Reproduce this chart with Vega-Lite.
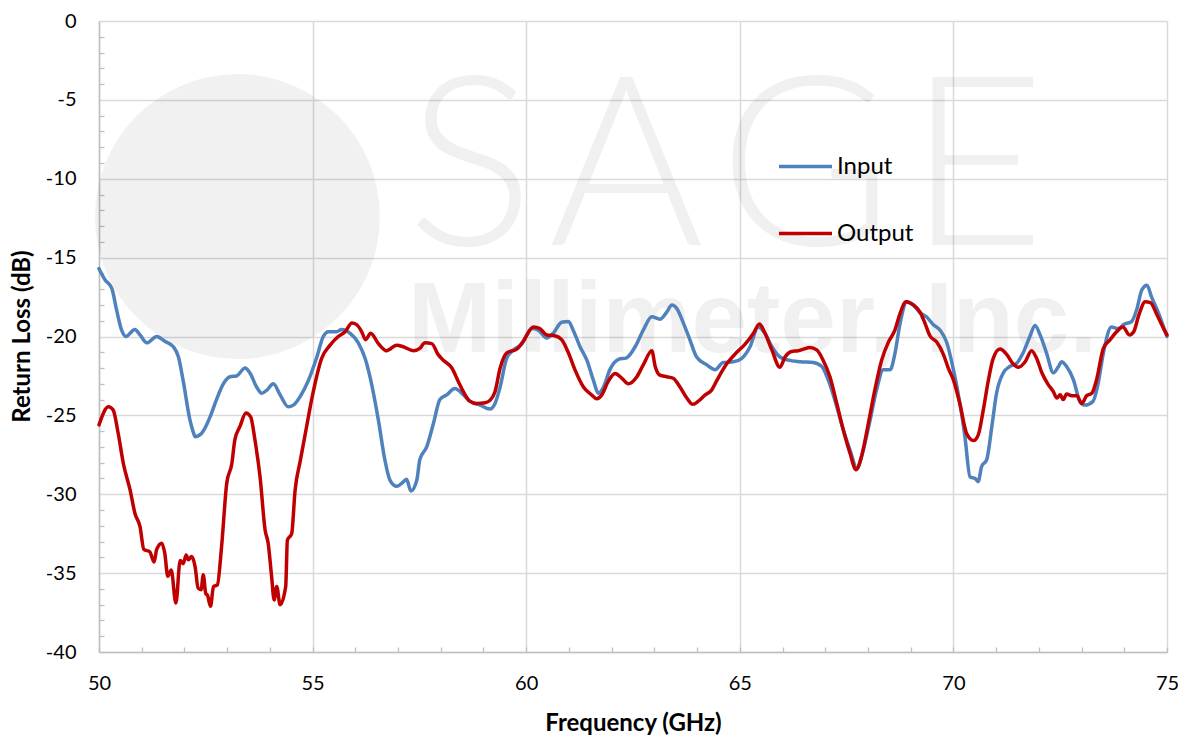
{
  "$schema": "https://vega.github.io/schema/vega-lite/v6.json",
  "width": 1068,
  "height": 631,
  "autosize": {"type": "none"},
  "padding": {"left": 99, "top": 21, "right": 20, "bottom": 86},
  "background": "white",
  "config": {
    "view": {"stroke": null},
    "font": "Lato",
    "axis": {
      "labelFont": "Lato",
      "labelFontSize": 20,
      "labelColor": "#000000",
      "titleFont": "Lato",
      "titleFontSize": 24,
      "titleFontWeight": "bold",
      "titleColor": "#000000",
      "domainColor": "#bfbfbf",
      "domainWidth": 1.5,
      "tickColor": "#bfbfbf",
      "tickWidth": 1.3,
      "gridColor": "#d9d9d9",
      "gridWidth": 1.5
    }
  },
  "resolve": {"axis": {"y": "independent"}},
  "datasets": {
    "wm": [{"t": "SAGE"}],
    "curves": [
      {"f": 50.00, "v": -15.7, "s": "Input"},
      {"f": 50.14, "v": -16.4, "s": "Input"},
      {"f": 50.30, "v": -16.95, "s": "Input"},
      {"f": 50.41, "v": -18.3, "s": "Input"},
      {"f": 50.53, "v": -19.6, "s": "Input"},
      {"f": 50.63, "v": -20.0, "s": "Input"},
      {"f": 50.84, "v": -19.55, "s": "Input"},
      {"f": 50.96, "v": -19.9, "s": "Input"},
      {"f": 51.12, "v": -20.4, "s": "Input"},
      {"f": 51.35, "v": -20.0, "s": "Input"},
      {"f": 51.54, "v": -20.3, "s": "Input"},
      {"f": 51.74, "v": -20.65, "s": "Input"},
      {"f": 51.86, "v": -21.3, "s": "Input"},
      {"f": 51.97, "v": -22.8, "s": "Input"},
      {"f": 52.13, "v": -25.3, "s": "Input"},
      {"f": 52.20, "v": -26.0, "s": "Input"},
      {"f": 52.25, "v": -26.35, "s": "Input"},
      {"f": 52.40, "v": -26.15, "s": "Input"},
      {"f": 52.52, "v": -25.6, "s": "Input"},
      {"f": 52.60, "v": -25.1, "s": "Input"},
      {"f": 52.75, "v": -24.0, "s": "Input"},
      {"f": 52.91, "v": -23.0, "s": "Input"},
      {"f": 53.07, "v": -22.55, "s": "Input"},
      {"f": 53.22, "v": -22.5, "s": "Input"},
      {"f": 53.42, "v": -22.0, "s": "Input"},
      {"f": 53.53, "v": -22.3, "s": "Input"},
      {"f": 53.69, "v": -23.2, "s": "Input"},
      {"f": 53.81, "v": -23.6, "s": "Input"},
      {"f": 53.93, "v": -23.4, "s": "Input"},
      {"f": 54.08, "v": -23.0, "s": "Input"},
      {"f": 54.24, "v": -23.7, "s": "Input"},
      {"f": 54.43, "v": -24.45, "s": "Input"},
      {"f": 54.55, "v": -24.35, "s": "Input"},
      {"f": 54.71, "v": -23.8, "s": "Input"},
      {"f": 54.90, "v": -22.8, "s": "Input"},
      {"f": 55.10, "v": -21.3, "s": "Input"},
      {"f": 55.25, "v": -20.0, "s": "Input"},
      {"f": 55.37, "v": -19.7, "s": "Input"},
      {"f": 55.56, "v": -19.7, "s": "Input"},
      {"f": 55.68, "v": -19.55, "s": "Input"},
      {"f": 55.88, "v": -19.8, "s": "Input"},
      {"f": 56.07, "v": -20.4, "s": "Input"},
      {"f": 56.23, "v": -21.4, "s": "Input"},
      {"f": 56.38, "v": -23.0, "s": "Input"},
      {"f": 56.54, "v": -25.3, "s": "Input"},
      {"f": 56.69, "v": -27.8, "s": "Input"},
      {"f": 56.81, "v": -29.1, "s": "Input"},
      {"f": 56.97, "v": -29.5, "s": "Input"},
      {"f": 57.09, "v": -29.3, "s": "Input"},
      {"f": 57.20, "v": -29.05, "s": "Input"},
      {"f": 57.30, "v": -29.8, "s": "Input"},
      {"f": 57.44, "v": -29.1, "s": "Input"},
      {"f": 57.51, "v": -27.8, "s": "Input"},
      {"f": 57.67, "v": -27.0, "s": "Input"},
      {"f": 57.83, "v": -25.5, "s": "Input"},
      {"f": 57.98, "v": -24.0, "s": "Input"},
      {"f": 58.14, "v": -23.7, "s": "Input"},
      {"f": 58.33, "v": -23.3, "s": "Input"},
      {"f": 58.53, "v": -23.7, "s": "Input"},
      {"f": 58.68, "v": -24.1, "s": "Input"},
      {"f": 58.92, "v": -24.35, "s": "Input"},
      {"f": 59.15, "v": -24.6, "s": "Input"},
      {"f": 59.27, "v": -24.25, "s": "Input"},
      {"f": 59.39, "v": -23.2, "s": "Input"},
      {"f": 59.54, "v": -21.4, "s": "Input"},
      {"f": 59.70, "v": -20.85, "s": "Input"},
      {"f": 59.89, "v": -20.5, "s": "Input"},
      {"f": 60.13, "v": -19.5, "s": "Input"},
      {"f": 60.28, "v": -19.6, "s": "Input"},
      {"f": 60.48, "v": -20.1, "s": "Input"},
      {"f": 60.63, "v": -19.8, "s": "Input"},
      {"f": 60.83, "v": -19.1, "s": "Input"},
      {"f": 60.99, "v": -19.05, "s": "Input"},
      {"f": 61.10, "v": -19.6, "s": "Input"},
      {"f": 61.26, "v": -20.65, "s": "Input"},
      {"f": 61.42, "v": -21.5, "s": "Input"},
      {"f": 61.57, "v": -22.75, "s": "Input"},
      {"f": 61.69, "v": -23.6, "s": "Input"},
      {"f": 61.81, "v": -23.2, "s": "Input"},
      {"f": 61.96, "v": -22.1, "s": "Input"},
      {"f": 62.16, "v": -21.45, "s": "Input"},
      {"f": 62.35, "v": -21.35, "s": "Input"},
      {"f": 62.55, "v": -20.65, "s": "Input"},
      {"f": 62.74, "v": -19.6, "s": "Input"},
      {"f": 62.94, "v": -18.75, "s": "Input"},
      {"f": 63.13, "v": -18.9, "s": "Input"},
      {"f": 63.29, "v": -18.45, "s": "Input"},
      {"f": 63.41, "v": -18.0, "s": "Input"},
      {"f": 63.52, "v": -18.2, "s": "Input"},
      {"f": 63.68, "v": -19.15, "s": "Input"},
      {"f": 63.83, "v": -20.2, "s": "Input"},
      {"f": 63.99, "v": -21.3, "s": "Input"},
      {"f": 64.23, "v": -21.8, "s": "Input"},
      {"f": 64.42, "v": -22.1, "s": "Input"},
      {"f": 64.61, "v": -21.65, "s": "Input"},
      {"f": 64.85, "v": -21.6, "s": "Input"},
      {"f": 65.04, "v": -21.4, "s": "Input"},
      {"f": 65.24, "v": -20.65, "s": "Input"},
      {"f": 65.43, "v": -19.4, "s": "Input"},
      {"f": 65.59, "v": -19.8, "s": "Input"},
      {"f": 65.75, "v": -20.65, "s": "Input"},
      {"f": 65.94, "v": -21.3, "s": "Input"},
      {"f": 66.14, "v": -21.5, "s": "Input"},
      {"f": 66.41, "v": -21.6, "s": "Input"},
      {"f": 66.72, "v": -21.65, "s": "Input"},
      {"f": 66.92, "v": -21.9, "s": "Input"},
      {"f": 67.07, "v": -22.75, "s": "Input"},
      {"f": 67.27, "v": -24.45, "s": "Input"},
      {"f": 67.42, "v": -25.9, "s": "Input"},
      {"f": 67.58, "v": -27.2, "s": "Input"},
      {"f": 67.74, "v": -28.35, "s": "Input"},
      {"f": 67.89, "v": -27.2, "s": "Input"},
      {"f": 68.05, "v": -25.3, "s": "Input"},
      {"f": 68.20, "v": -23.4, "s": "Input"},
      {"f": 68.36, "v": -22.1, "s": "Input"},
      {"f": 68.52, "v": -22.1, "s": "Input"},
      {"f": 68.63, "v": -21.1, "s": "Input"},
      {"f": 68.75, "v": -19.2, "s": "Input"},
      {"f": 68.91, "v": -17.8, "s": "Input"},
      {"f": 69.06, "v": -18.0, "s": "Input"},
      {"f": 69.22, "v": -18.5, "s": "Input"},
      {"f": 69.37, "v": -18.75, "s": "Input"},
      {"f": 69.53, "v": -19.25, "s": "Input"},
      {"f": 69.69, "v": -19.6, "s": "Input"},
      {"f": 69.84, "v": -20.35, "s": "Input"},
      {"f": 70.00, "v": -22.1, "s": "Input"},
      {"f": 70.15, "v": -24.2, "s": "Input"},
      {"f": 70.27, "v": -26.35, "s": "Input"},
      {"f": 70.39, "v": -28.9, "s": "Input"},
      {"f": 70.51, "v": -29.0, "s": "Input"},
      {"f": 70.58, "v": -29.2, "s": "Input"},
      {"f": 70.66, "v": -28.25, "s": "Input"},
      {"f": 70.78, "v": -27.8, "s": "Input"},
      {"f": 70.90, "v": -25.7, "s": "Input"},
      {"f": 71.01, "v": -23.6, "s": "Input"},
      {"f": 71.17, "v": -22.3, "s": "Input"},
      {"f": 71.32, "v": -21.9, "s": "Input"},
      {"f": 71.48, "v": -21.7, "s": "Input"},
      {"f": 71.63, "v": -21.05, "s": "Input"},
      {"f": 71.79, "v": -20.0, "s": "Input"},
      {"f": 71.91, "v": -19.3, "s": "Input"},
      {"f": 72.03, "v": -19.9, "s": "Input"},
      {"f": 72.18, "v": -21.05, "s": "Input"},
      {"f": 72.34, "v": -22.3, "s": "Input"},
      {"f": 72.46, "v": -21.9, "s": "Input"},
      {"f": 72.53, "v": -21.6, "s": "Input"},
      {"f": 72.65, "v": -21.9, "s": "Input"},
      {"f": 72.81, "v": -22.75, "s": "Input"},
      {"f": 72.96, "v": -24.1, "s": "Input"},
      {"f": 73.08, "v": -24.35, "s": "Input"},
      {"f": 73.27, "v": -24.1, "s": "Input"},
      {"f": 73.39, "v": -22.95, "s": "Input"},
      {"f": 73.51, "v": -21.05, "s": "Input"},
      {"f": 73.70, "v": -19.4, "s": "Input"},
      {"f": 73.86, "v": -19.5, "s": "Input"},
      {"f": 73.98, "v": -19.25, "s": "Input"},
      {"f": 74.17, "v": -19.05, "s": "Input"},
      {"f": 74.29, "v": -18.3, "s": "Input"},
      {"f": 74.41, "v": -17.05, "s": "Input"},
      {"f": 74.53, "v": -16.75, "s": "Input"},
      {"f": 74.64, "v": -17.5, "s": "Input"},
      {"f": 74.80, "v": -18.5, "s": "Input"},
      {"f": 74.92, "v": -19.4, "s": "Input"},
      {"f": 75.00, "v": -20.0, "s": "Input"},
      {"f": 50.00, "v": -25.6, "s": "Output"},
      {"f": 50.22, "v": -24.45, "s": "Output"},
      {"f": 50.33, "v": -24.65, "s": "Output"},
      {"f": 50.45, "v": -26.15, "s": "Output"},
      {"f": 50.57, "v": -28.05, "s": "Output"},
      {"f": 50.73, "v": -29.75, "s": "Output"},
      {"f": 50.84, "v": -31.2, "s": "Output"},
      {"f": 50.96, "v": -32.05, "s": "Output"},
      {"f": 51.05, "v": -33.5, "s": "Output"},
      {"f": 51.19, "v": -33.65, "s": "Output"},
      {"f": 51.29, "v": -34.3, "s": "Output"},
      {"f": 51.35, "v": -33.5, "s": "Output"},
      {"f": 51.47, "v": -33.1, "s": "Output"},
      {"f": 51.54, "v": -33.75, "s": "Output"},
      {"f": 51.61, "v": -35.2, "s": "Output"},
      {"f": 51.69, "v": -34.8, "s": "Output"},
      {"f": 51.80, "v": -36.9, "s": "Output"},
      {"f": 51.90, "v": -34.2, "s": "Output"},
      {"f": 51.97, "v": -34.4, "s": "Output"},
      {"f": 52.04, "v": -33.85, "s": "Output"},
      {"f": 52.09, "v": -34.15, "s": "Output"},
      {"f": 52.17, "v": -33.95, "s": "Output"},
      {"f": 52.25, "v": -34.6, "s": "Output"},
      {"f": 52.32, "v": -35.95, "s": "Output"},
      {"f": 52.39, "v": -36.05, "s": "Output"},
      {"f": 52.44, "v": -35.1, "s": "Output"},
      {"f": 52.50, "v": -36.3, "s": "Output"},
      {"f": 52.54, "v": -36.4, "s": "Output"},
      {"f": 52.61, "v": -37.1, "s": "Output"},
      {"f": 52.68, "v": -35.85, "s": "Output"},
      {"f": 52.77, "v": -35.75, "s": "Output"},
      {"f": 52.87, "v": -33.3, "s": "Output"},
      {"f": 52.99, "v": -29.3, "s": "Output"},
      {"f": 53.11, "v": -28.05, "s": "Output"},
      {"f": 53.18, "v": -26.55, "s": "Output"},
      {"f": 53.30, "v": -25.7, "s": "Output"},
      {"f": 53.44, "v": -24.85, "s": "Output"},
      {"f": 53.55, "v": -25.1, "s": "Output"},
      {"f": 53.65, "v": -26.55, "s": "Output"},
      {"f": 53.77, "v": -28.9, "s": "Output"},
      {"f": 53.89, "v": -32.3, "s": "Output"},
      {"f": 53.96, "v": -33.1, "s": "Output"},
      {"f": 54.04, "v": -35.2, "s": "Output"},
      {"f": 54.10, "v": -36.7, "s": "Output"},
      {"f": 54.16, "v": -35.85, "s": "Output"},
      {"f": 54.24, "v": -37.0, "s": "Output"},
      {"f": 54.37, "v": -35.85, "s": "Output"},
      {"f": 54.41, "v": -32.9, "s": "Output"},
      {"f": 54.51, "v": -32.5, "s": "Output"},
      {"f": 54.59, "v": -29.75, "s": "Output"},
      {"f": 54.71, "v": -27.9, "s": "Output"},
      {"f": 54.84, "v": -26.0, "s": "Output"},
      {"f": 55.00, "v": -23.7, "s": "Output"},
      {"f": 55.21, "v": -21.4, "s": "Output"},
      {"f": 55.41, "v": -20.55, "s": "Output"},
      {"f": 55.60, "v": -20.0, "s": "Output"},
      {"f": 55.76, "v": -19.7, "s": "Output"},
      {"f": 55.92, "v": -19.15, "s": "Output"},
      {"f": 56.03, "v": -19.25, "s": "Output"},
      {"f": 56.15, "v": -19.7, "s": "Output"},
      {"f": 56.24, "v": -20.2, "s": "Output"},
      {"f": 56.36, "v": -19.8, "s": "Output"},
      {"f": 56.54, "v": -20.45, "s": "Output"},
      {"f": 56.73, "v": -20.9, "s": "Output"},
      {"f": 56.97, "v": -20.55, "s": "Output"},
      {"f": 57.12, "v": -20.65, "s": "Output"},
      {"f": 57.36, "v": -20.9, "s": "Output"},
      {"f": 57.51, "v": -20.75, "s": "Output"},
      {"f": 57.63, "v": -20.4, "s": "Output"},
      {"f": 57.79, "v": -20.45, "s": "Output"},
      {"f": 57.94, "v": -21.15, "s": "Output"},
      {"f": 58.06, "v": -21.5, "s": "Output"},
      {"f": 58.26, "v": -22.0, "s": "Output"},
      {"f": 58.41, "v": -22.85, "s": "Output"},
      {"f": 58.53, "v": -23.5, "s": "Output"},
      {"f": 58.68, "v": -24.1, "s": "Output"},
      {"f": 58.84, "v": -24.25, "s": "Output"},
      {"f": 59.04, "v": -24.2, "s": "Output"},
      {"f": 59.15, "v": -24.05, "s": "Output"},
      {"f": 59.27, "v": -23.5, "s": "Output"},
      {"f": 59.39, "v": -22.0, "s": "Output"},
      {"f": 59.54, "v": -21.05, "s": "Output"},
      {"f": 59.78, "v": -20.8, "s": "Output"},
      {"f": 59.93, "v": -20.3, "s": "Output"},
      {"f": 60.17, "v": -19.4, "s": "Output"},
      {"f": 60.32, "v": -19.5, "s": "Output"},
      {"f": 60.48, "v": -19.9, "s": "Output"},
      {"f": 60.67, "v": -19.95, "s": "Output"},
      {"f": 60.83, "v": -20.2, "s": "Output"},
      {"f": 60.99, "v": -21.05, "s": "Output"},
      {"f": 61.14, "v": -22.1, "s": "Output"},
      {"f": 61.34, "v": -23.2, "s": "Output"},
      {"f": 61.53, "v": -23.7, "s": "Output"},
      {"f": 61.65, "v": -23.95, "s": "Output"},
      {"f": 61.77, "v": -23.7, "s": "Output"},
      {"f": 61.92, "v": -22.85, "s": "Output"},
      {"f": 62.08, "v": -22.35, "s": "Output"},
      {"f": 62.24, "v": -22.65, "s": "Output"},
      {"f": 62.39, "v": -23.0, "s": "Output"},
      {"f": 62.59, "v": -22.55, "s": "Output"},
      {"f": 62.74, "v": -21.8, "s": "Output"},
      {"f": 62.94, "v": -20.9, "s": "Output"},
      {"f": 63.02, "v": -21.9, "s": "Output"},
      {"f": 63.13, "v": -22.45, "s": "Output"},
      {"f": 63.29, "v": -22.55, "s": "Output"},
      {"f": 63.44, "v": -22.65, "s": "Output"},
      {"f": 63.60, "v": -23.2, "s": "Output"},
      {"f": 63.76, "v": -23.9, "s": "Output"},
      {"f": 63.90, "v": -24.3, "s": "Output"},
      {"f": 64.03, "v": -24.1, "s": "Output"},
      {"f": 64.19, "v": -23.7, "s": "Output"},
      {"f": 64.34, "v": -23.4, "s": "Output"},
      {"f": 64.46, "v": -22.8, "s": "Output"},
      {"f": 64.69, "v": -21.75, "s": "Output"},
      {"f": 64.93, "v": -21.0, "s": "Output"},
      {"f": 65.12, "v": -20.5, "s": "Output"},
      {"f": 65.32, "v": -19.8, "s": "Output"},
      {"f": 65.46, "v": -19.2, "s": "Output"},
      {"f": 65.59, "v": -19.8, "s": "Output"},
      {"f": 65.75, "v": -20.85, "s": "Output"},
      {"f": 65.94, "v": -21.95, "s": "Output"},
      {"f": 66.06, "v": -21.3, "s": "Output"},
      {"f": 66.21, "v": -20.95, "s": "Output"},
      {"f": 66.37, "v": -20.9, "s": "Output"},
      {"f": 66.49, "v": -20.8, "s": "Output"},
      {"f": 66.64, "v": -20.7, "s": "Output"},
      {"f": 66.80, "v": -20.85, "s": "Output"},
      {"f": 66.95, "v": -21.5, "s": "Output"},
      {"f": 67.11, "v": -22.55, "s": "Output"},
      {"f": 67.27, "v": -24.25, "s": "Output"},
      {"f": 67.42, "v": -25.9, "s": "Output"},
      {"f": 67.58, "v": -27.4, "s": "Output"},
      {"f": 67.72, "v": -28.45, "s": "Output"},
      {"f": 67.85, "v": -27.6, "s": "Output"},
      {"f": 68.01, "v": -25.5, "s": "Output"},
      {"f": 68.16, "v": -23.4, "s": "Output"},
      {"f": 68.32, "v": -21.5, "s": "Output"},
      {"f": 68.48, "v": -20.35, "s": "Output"},
      {"f": 68.63, "v": -19.6, "s": "Output"},
      {"f": 68.75, "v": -18.55, "s": "Output"},
      {"f": 68.89, "v": -17.8, "s": "Output"},
      {"f": 69.06, "v": -18.0, "s": "Output"},
      {"f": 69.22, "v": -18.45, "s": "Output"},
      {"f": 69.34, "v": -19.2, "s": "Output"},
      {"f": 69.45, "v": -19.95, "s": "Output"},
      {"f": 69.61, "v": -20.35, "s": "Output"},
      {"f": 69.76, "v": -21.1, "s": "Output"},
      {"f": 69.88, "v": -22.0, "s": "Output"},
      {"f": 70.00, "v": -22.75, "s": "Output"},
      {"f": 70.15, "v": -24.25, "s": "Output"},
      {"f": 70.31, "v": -26.15, "s": "Output"},
      {"f": 70.47, "v": -26.6, "s": "Output"},
      {"f": 70.58, "v": -26.25, "s": "Output"},
      {"f": 70.70, "v": -24.65, "s": "Output"},
      {"f": 70.82, "v": -22.75, "s": "Output"},
      {"f": 70.93, "v": -21.4, "s": "Output"},
      {"f": 71.09, "v": -20.8, "s": "Output"},
      {"f": 71.25, "v": -21.15, "s": "Output"},
      {"f": 71.40, "v": -21.75, "s": "Output"},
      {"f": 71.52, "v": -21.95, "s": "Output"},
      {"f": 71.68, "v": -21.6, "s": "Output"},
      {"f": 71.83, "v": -20.9, "s": "Output"},
      {"f": 71.95, "v": -21.4, "s": "Output"},
      {"f": 72.07, "v": -22.3, "s": "Output"},
      {"f": 72.22, "v": -23.05, "s": "Output"},
      {"f": 72.34, "v": -23.5, "s": "Output"},
      {"f": 72.42, "v": -23.9, "s": "Output"},
      {"f": 72.50, "v": -23.7, "s": "Output"},
      {"f": 72.57, "v": -24.0, "s": "Output"},
      {"f": 72.65, "v": -23.65, "s": "Output"},
      {"f": 72.77, "v": -23.75, "s": "Output"},
      {"f": 72.89, "v": -23.75, "s": "Output"},
      {"f": 73.00, "v": -24.25, "s": "Output"},
      {"f": 73.12, "v": -23.75, "s": "Output"},
      {"f": 73.24, "v": -23.6, "s": "Output"},
      {"f": 73.35, "v": -22.75, "s": "Output"},
      {"f": 73.51, "v": -20.75, "s": "Output"},
      {"f": 73.67, "v": -20.2, "s": "Output"},
      {"f": 73.82, "v": -19.7, "s": "Output"},
      {"f": 73.97, "v": -19.4, "s": "Output"},
      {"f": 74.12, "v": -19.9, "s": "Output"},
      {"f": 74.22, "v": -19.7, "s": "Output"},
      {"f": 74.34, "v": -18.65, "s": "Output"},
      {"f": 74.49, "v": -17.8, "s": "Output"},
      {"f": 74.61, "v": -17.85, "s": "Output"},
      {"f": 74.77, "v": -18.65, "s": "Output"},
      {"f": 74.92, "v": -19.5, "s": "Output"},
      {"f": 75.00, "v": -19.9, "s": "Output"}
    ]
  },
  "layer": [
    {
      "data": {"name": "wm"},
      "mark": {"type": "point", "shape": "circle", "filled": true, "size": 81225, "color": "#000000", "opacity": 0.055},
      "encoding": {
        "x": {"datum": 53.24, "type": "quantitative", "scale": {"domain": [50, 75], "nice": false, "zero": false}},
        "y": {
          "datum": -12.4, "type": "quantitative",
          "scale": {"domain": [-40, 0], "nice": false, "zero": false},
          "axis": {
            "orient": "left",
            "title": null,
            "values": [-39,-38,-37,-36,-34,-33,-32,-31,-29,-28,-27,-26,-24,-23,-22,-21,-19,-18,-17,-16,-14,-13,-12,-11,-9,-8,-7,-6,-4,-3,-2,-1],
            "labels": false,
            "grid": false,
            "domain": false,
            "tickSize": -5
          }
        }
      }
    },
    {
      "data": {"name": "wm"},
      "mark": {"type": "text", "font": "Lato", "fontWeight": 300, "fontSize": 237, "align": "center", "baseline": "alphabetic", "color": "#000000", "opacity": 0.055},
      "encoding": {
        "x": {"datum": 64.68, "type": "quantitative"},
        "y": {"datum": -14.2, "type": "quantitative", "axis": null},
        "text": {"value": "S\u200aA\u200aG\u200aE"}
      }
    },
    {
      "data": {"name": "wm"},
      "mark": {"type": "text", "font": "Liberation Sans", "fontWeight": "bold", "fontSize": 100, "align": "center", "baseline": "alphabetic", "color": "#000000", "opacity": 0.055},
      "encoding": {
        "x": {"datum": 65.3, "type": "quantitative"},
        "y": {"datum": -21.0, "type": "quantitative", "axis": null},
        "text": {"value": "Millimeter, Inc."}
      }
    },
    {
      "data": {"name": "curves"},
      "mark": {"type": "line", "strokeWidth": 3.5, "interpolate": "monotone", "strokeJoin": "round", "strokeCap": "round"},
      "encoding": {
        "x": {
          "field": "f", "type": "quantitative",
          "scale": {"domain": [50, 75], "nice": false, "zero": false},
          "axis": {
            "title": "Frequency (GHz)",
            "values": [50,51,52,53,54,55,56,57,58,59,60,61,62,63,64,65,66,67,68,69,70,71,72,73,74,75],
            "labelExpr": "datum.value % 5 === 0 ? '' + datum.value : ''",
            "labelOverlap": false,
            "grid": true,
            "gridColor": {"condition": {"test": "datum.value % 5 === 0", "value": "#d9d9d9"}, "value": "rgba(255,255,255,0)"},
            "tickSize": -5,
            "labelPadding": 26,
            "labelFlush": false,
            "titleBaseline": "alphabetic",
            "titleY": 78
          }
        },
        "y": {
          "field": "v", "type": "quantitative",
          "scale": {"domain": [-40, 0], "nice": false, "zero": false},
          "axis": {
            "orient": "left",
            "title": "Return Loss (dB)",
            "values": [-40,-35,-30,-25,-20,-15,-10,-5,0],
            "labelExpr": "'' + datum.value",
            "labelOverlap": false,
            "grid": true,
            "ticks": false,
            "labelPadding": 23,
            "labelFlush": false,
            "titleAngle": 270,
            "titleAlign": "center",
            "titleBaseline": "alphabetic",
            "titleX": -70,
            "titleY": 315
          }
        },
        "color": {
          "field": "s", "type": "nominal",
          "scale": {"domain": ["Input", "Output"], "range": ["#4F81BD", "#C00000"]},
          "legend": {
            "title": null,
            "orient": "none",
            "legendX": 678,
            "legendY": 117,
            "padding": 0,
            "symbolType": "stroke",
            "symbolSize": 2809,
            "symbolStrokeWidth": 3.5,
            "labelFont": "Lato",
            "labelFontSize": 24,
            "labelColor": "#000000",
            "labelOffset": 3,
            "rowPadding": 26
          }
        }
      }
    }
  ]
}
